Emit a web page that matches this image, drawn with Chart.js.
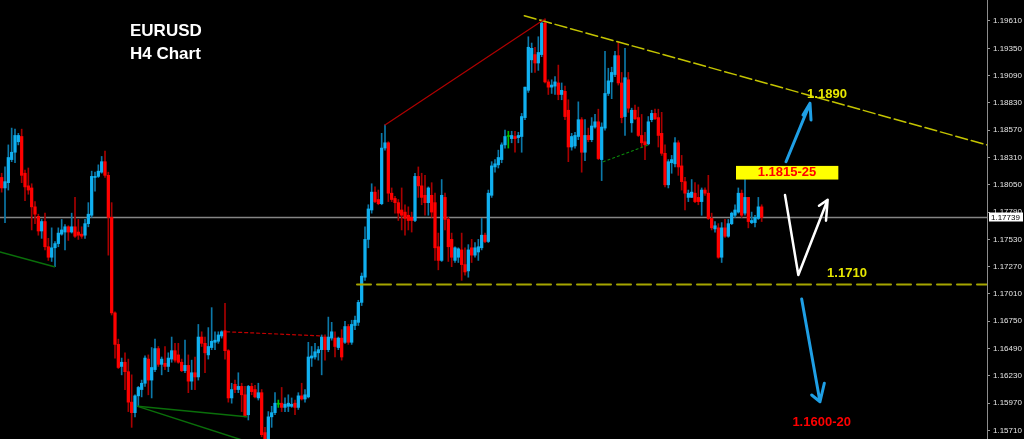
<!DOCTYPE html>
<html>
<head>
<meta charset="utf-8">
<title>EURUSD H4</title>
<script src="https://cdn.jsdelivr.net/npm/chart.js@4.4.0/dist/chart.umd.min.js"></script>
<style>
  html, body { margin: 0; padding: 0; background: #000; }
  #wrap { width: 1024px; height: 439px; }
</style>
</head>
<body>
<div id="wrap"><canvas id="myChart" width="1024" height="439"></canvas></div>
<script>
// H4 candles, oldest first
const open = [
  1.1812, 1.1802, 1.1807, 1.1829, 1.1836, 1.1846, 1.1851, 1.1816, 1.1804, 1.1802,
  1.1784, 1.1775, 1.1761, 1.1770, 1.1746, 1.1736, 1.1745, 1.1749, 1.1758, 1.1760,
  1.1765, 1.1760, 1.1765, 1.1760, 1.1758, 1.1757, 1.1768, 1.1776, 1.1812, 1.1813,
  1.1817, 1.1827, 1.1814, 1.1774, 1.1683, 1.1653, 1.1632, 1.1636, 1.1627, 1.1598,
  1.1588, 1.1604, 1.1610, 1.1616, 1.1639, 1.1619, 1.1629, 1.1649, 1.1634, 1.1635,
  1.1632, 1.1639, 1.1647, 1.1643, 1.1636, 1.1628, 1.1633, 1.1618, 1.1626, 1.1622,
  1.1660, 1.1654, 1.1643, 1.1650, 1.1655, 1.1656, 1.1661, 1.1666, 1.1647, 1.1602,
  1.1615, 1.1610, 1.1613, 1.1605, 1.1586, 1.1613, 1.1610, 1.1602, 1.1607, 1.1569,
  1.1561, 1.1584, 1.1588, 1.1596, 1.1597, 1.1593, 1.1594, 1.1594, 1.1597, 1.1593,
  1.1604, 1.1601, 1.1603, 1.1640, 1.1641, 1.1645, 1.1648, 1.1660, 1.1648, 1.1659,
  1.1659, 1.1650, 1.1659, 1.1655, 1.1670, 1.1655, 1.1671, 1.1674, 1.1693, 1.1717,
  1.1753, 1.1781, 1.1798, 1.1791, 1.1787, 1.1840, 1.1845, 1.1797, 1.1792, 1.1788,
  1.1781, 1.1779, 1.1776, 1.1774, 1.1771, 1.1813, 1.1804, 1.1795, 1.1788, 1.1795,
  1.1788, 1.1746, 1.1733, 1.1793, 1.1772, 1.1753, 1.1733, 1.1736, 1.1743, 1.1729,
  1.1723, 1.1745, 1.1738, 1.1741, 1.1745, 1.1757, 1.1751, 1.1795, 1.1822, 1.1824,
  1.1829, 1.1843, 1.1851, 1.1849, 1.1851, 1.1850, 1.1851, 1.1869, 1.1895, 1.1924,
  1.1929, 1.1921, 1.1929, 1.1959, 1.1903, 1.1898, 1.1899, 1.1902, 1.1891, 1.1894,
  1.1876, 1.1841, 1.1842, 1.1851, 1.1867, 1.1836, 1.1852, 1.1848, 1.1860, 1.1865,
  1.1829, 1.1859, 1.1892, 1.1903, 1.1910, 1.1928, 1.1902, 1.1870, 1.1905, 1.1864,
  1.1876, 1.1869, 1.1852, 1.1846, 1.1844, 1.1867, 1.1873, 1.1869, 1.1854, 1.1835,
  1.1805, 1.1826, 1.1825, 1.1845, 1.1823, 1.1808, 1.1793, 1.1793, 1.1797, 1.1793,
  1.1789, 1.1800, 1.1797, 1.1773, 1.1763, 1.1764, 1.1736, 1.1764, 1.1756, 1.1768,
  1.1776, 1.1779, 1.1797, 1.1778, 1.1793, 1.1769, 1.1769, 1.1773, 1.1784
];
const high = [
  1.1816, 1.1822, 1.1843, 1.1859, 1.1858, 1.1854, 1.1858, 1.1819, 1.1821, 1.1806,
  1.1789, 1.1777, 1.1772, 1.1778, 1.1754, 1.1764, 1.1751, 1.1764, 1.1772, 1.1767,
  1.1766, 1.1778, 1.1793, 1.1772, 1.1765, 1.1772, 1.1788, 1.1818, 1.1817, 1.1824,
  1.1832, 1.1837, 1.1817, 1.1788, 1.1684, 1.1658, 1.1640, 1.1645, 1.1639, 1.1624,
  1.1605, 1.1613, 1.1619, 1.1642, 1.1643, 1.1650, 1.1658, 1.1651, 1.1641, 1.1651,
  1.1645, 1.1660, 1.1654, 1.1654, 1.1639, 1.1657, 1.1643, 1.1638, 1.1641, 1.1672,
  1.1665, 1.1660, 1.1669, 1.1688, 1.1665, 1.1665, 1.1666, 1.1692, 1.1648, 1.1616,
  1.1619, 1.1626, 1.1616, 1.1613, 1.1614, 1.1616, 1.1614, 1.1616, 1.1610, 1.1574,
  1.1589, 1.1594, 1.1607, 1.1600, 1.1612, 1.1602, 1.1605, 1.1602, 1.1600, 1.1607,
  1.1616, 1.1610, 1.1655, 1.1651, 1.1654, 1.1651, 1.1662, 1.1662, 1.1679, 1.1674,
  1.1665, 1.1660, 1.1667, 1.1675, 1.1672, 1.1676, 1.1680, 1.1695, 1.1721, 1.1765,
  1.1786, 1.1806, 1.1803, 1.1800, 1.1854, 1.1862, 1.1846, 1.1802, 1.1794, 1.1791,
  1.1802, 1.1786, 1.1784, 1.1779, 1.1816, 1.1822, 1.1816, 1.1814, 1.1803, 1.1807,
  1.1797, 1.1759, 1.1810, 1.1797, 1.1774, 1.1759, 1.1746, 1.1745, 1.1759, 1.1745,
  1.1748, 1.1753, 1.1750, 1.1753, 1.1773, 1.1759, 1.1800, 1.1827, 1.1829, 1.1838,
  1.1845, 1.1857, 1.1856, 1.1856, 1.1856, 1.1855, 1.1873, 1.1898, 1.1946, 1.1940,
  1.1936, 1.1946, 1.1962, 1.1963, 1.1905, 1.1905, 1.1908, 1.1919, 1.1902, 1.1899,
  1.1886, 1.1854, 1.1855, 1.1884, 1.1869, 1.1867, 1.1859, 1.1869, 1.1872, 1.1877,
  1.1864, 1.1932, 1.1916, 1.1917, 1.1932, 1.1941, 1.1912, 1.1935, 1.1912, 1.1878,
  1.1881, 1.1879, 1.1872, 1.1855, 1.1870, 1.1876, 1.1877, 1.1877, 1.1874, 1.1843,
  1.1829, 1.1833, 1.1850, 1.1847, 1.1833, 1.1812, 1.1800, 1.1810, 1.1807, 1.1805,
  1.1802, 1.1802, 1.1814, 1.1778, 1.1770, 1.1768, 1.1769, 1.1772, 1.1772, 1.1779,
  1.1786, 1.1802, 1.1800, 1.1812, 1.1793, 1.1779, 1.1776, 1.1793, 1.1786
];
const low = [
  1.1798, 1.1769, 1.1800, 1.1827, 1.1826, 1.1843, 1.1807, 1.1790, 1.1796, 1.1762,
  1.1768, 1.1757, 1.1754, 1.1743, 1.1733, 1.1732, 1.1727, 1.1746, 1.1757, 1.1743,
  1.1752, 1.1759, 1.1755, 1.1753, 1.1754, 1.1754, 1.1765, 1.1774, 1.1799, 1.1812,
  1.1816, 1.1812, 1.1738, 1.1681, 1.1640, 1.1630, 1.1624, 1.1610, 1.1589, 1.1574,
  1.1584, 1.1594, 1.1603, 1.1613, 1.1605, 1.1602, 1.1627, 1.1632, 1.1624, 1.1629,
  1.1627, 1.1636, 1.1636, 1.1635, 1.1627, 1.1626, 1.1607, 1.1610, 1.1610, 1.1619,
  1.1651, 1.1626, 1.1639, 1.1648, 1.1648, 1.1654, 1.1659, 1.1639, 1.1598, 1.1597,
  1.1607, 1.1607, 1.1589, 1.1584, 1.1581, 1.1605, 1.1602, 1.1600, 1.1565, 1.1556,
  1.1556, 1.1574, 1.1586, 1.1593, 1.1589, 1.1589, 1.1589, 1.1593, 1.1586, 1.1591,
  1.1600, 1.1598, 1.1602, 1.1632, 1.1639, 1.1638, 1.1624, 1.1638, 1.1646, 1.1657,
  1.1641, 1.1648, 1.1638, 1.1654, 1.1653, 1.1653, 1.1667, 1.1671, 1.1690, 1.1714,
  1.1745, 1.1778, 1.1788, 1.1786, 1.1786, 1.1838, 1.1789, 1.1789, 1.1778, 1.1771,
  1.1762, 1.1757, 1.1762, 1.1760, 1.1770, 1.1793, 1.1786, 1.1776, 1.1776, 1.1774,
  1.1733, 1.1724, 1.1732, 1.1762, 1.1732, 1.1727, 1.1731, 1.1731, 1.1714, 1.1719,
  1.1717, 1.1731, 1.1736, 1.1733, 1.1743, 1.1750, 1.1750, 1.1793, 1.1817, 1.1821,
  1.1826, 1.1840, 1.1840, 1.1845, 1.1836, 1.1845, 1.1836, 1.1867, 1.1893, 1.1912,
  1.1912, 1.1914, 1.1927, 1.1902, 1.1891, 1.1892, 1.1891, 1.1886, 1.1886, 1.1867,
  1.1827, 1.1838, 1.1840, 1.1848, 1.1817, 1.1828, 1.1846, 1.1846, 1.1859, 1.1829,
  1.1809, 1.1857, 1.1890, 1.1887, 1.1908, 1.1900, 1.1864, 1.1852, 1.1874, 1.1855,
  1.1867, 1.1851, 1.1841, 1.1829, 1.1843, 1.1865, 1.1867, 1.1841, 1.1833, 1.1803,
  1.1802, 1.1816, 1.1822, 1.1814, 1.1800, 1.1781, 1.1789, 1.1793, 1.1788, 1.1786,
  1.1776, 1.1795, 1.1772, 1.1762, 1.1760, 1.1735, 1.1731, 1.1755, 1.1755, 1.1767,
  1.1774, 1.1778, 1.1774, 1.1776, 1.1764, 1.1768, 1.1765, 1.1772, 1.1770
];
const close = [
  1.1802, 1.1808, 1.1831, 1.1836, 1.1852, 1.1852, 1.1814, 1.1803, 1.1800, 1.1784,
  1.1777, 1.1761, 1.1770, 1.1746, 1.1736, 1.1745, 1.1749, 1.1759, 1.1762, 1.1765,
  1.1760, 1.1765, 1.1756, 1.1757, 1.1756, 1.1768, 1.1777, 1.1813, 1.1813, 1.1818,
  1.1827, 1.1814, 1.1774, 1.1683, 1.1653, 1.1631, 1.1636, 1.1627, 1.1598, 1.1588,
  1.1604, 1.1612, 1.1616, 1.1640, 1.1619, 1.1631, 1.1649, 1.1634, 1.1639, 1.1632,
  1.1640, 1.1647, 1.1638, 1.1636, 1.1628, 1.1633, 1.1618, 1.1626, 1.1622, 1.1660,
  1.1654, 1.1645, 1.1651, 1.1656, 1.1657, 1.1662, 1.1665, 1.1647, 1.1602, 1.1610,
  1.1610, 1.1613, 1.1605, 1.1585, 1.1613, 1.1608, 1.1603, 1.1607, 1.1567, 1.1561,
  1.1584, 1.1588, 1.1597, 1.1596, 1.1593, 1.1596, 1.1597, 1.1596, 1.1593, 1.1604,
  1.1601, 1.1605, 1.1641, 1.1642, 1.1646, 1.1648, 1.1660, 1.1648, 1.1660, 1.1665,
  1.1651, 1.1659, 1.1641, 1.1670, 1.1655, 1.1672, 1.1676, 1.1693, 1.1718, 1.1753,
  1.1782, 1.1798, 1.1789, 1.1787, 1.1840, 1.1845, 1.1797, 1.1791, 1.1788, 1.1778,
  1.1776, 1.1773, 1.1771, 1.1771, 1.1813, 1.1804, 1.1793, 1.1788, 1.1802, 1.1779,
  1.1745, 1.1733, 1.1795, 1.1772, 1.1746, 1.1736, 1.1745, 1.1744, 1.1729, 1.1722,
  1.1743, 1.1738, 1.1745, 1.1746, 1.1757, 1.1751, 1.1797, 1.1823, 1.1825, 1.1831,
  1.1843, 1.1851, 1.1851, 1.1852, 1.1849, 1.1852, 1.1870, 1.1898, 1.1936, 1.1935,
  1.1921, 1.1931, 1.1959, 1.1903, 1.1898, 1.1900, 1.1903, 1.1891, 1.1895, 1.1870,
  1.1841, 1.1851, 1.1852, 1.1867, 1.1836, 1.1852, 1.1848, 1.1861, 1.1865, 1.1830,
  1.1860, 1.1892, 1.1904, 1.1912, 1.1928, 1.1902, 1.1869, 1.1907, 1.1878, 1.1876,
  1.1868, 1.1852, 1.1845, 1.1843, 1.1865, 1.1873, 1.1868, 1.1852, 1.1835, 1.1805,
  1.1827, 1.1829, 1.1845, 1.1822, 1.1808, 1.1797, 1.1797, 1.1798, 1.1789, 1.1789,
  1.1800, 1.1797, 1.1773, 1.1764, 1.1766, 1.1736, 1.1764, 1.1756, 1.1768, 1.1778,
  1.1781, 1.1797, 1.1776, 1.1793, 1.1770, 1.1771, 1.1774, 1.1784, 1.1774
];

// price axis labels
const tickValues = [1.19610, 1.19350, 1.19090, 1.18830, 1.18570, 1.18310, 1.18050, 1.17790,
                    1.17530, 1.17270, 1.17010, 1.16750, 1.16490, 1.16230, 1.15970, 1.15710];
const lastPrice = 1.17739;

// objects drawn on the chart, anchored on bar number / price
const trendRed = [{ x: 115, y: 1.1862 }, { x: 162.5, y: 1.1962 }];
const trendYellow = [{ x: 156.8, y: 1.1966 }, { x: 295.6, y: 1.1843 }];
const support = [{ x: 106.6, y: 1.1710 }, { x: 295.6, y: 1.1710 }];
const redDotted = [{ x: 67.5, y: 1.1665 }, { x: 96.4, y: 1.1661 }];
const greenDotted = [{ x: 180.5, y: 1.1827 }, { x: 194, y: 1.1843 }];
const greenLeft = [{ x: -0.5, y: 1.1741 }, { x: 15.8, y: 1.1727 }];
const greenLow1 = [{ x: 40.8, y: 1.1594 }, { x: 73.5, y: 1.1584 }];
const greenLow2 = [{ x: 40.8, y: 1.1594 }, { x: 75, y: 1.1559 }];
const arrowUp = [{ x: 235.3, y: 1.1827 }, { x: 242.5, y: 1.18826 }, { x: 240.4, y: 1.18715 },
                 { x: 242.5, y: 1.18826 }, { x: 242.8, y: 1.18667 }];
const arrowWhite = [{ x: 235, y: 1.17953 }, { x: 239, y: 1.17191 }, { x: 247.8, y: 1.17908 },
                    { x: 245.2, y: 1.17851 }, { x: 247.8, y: 1.17908 }, { x: 247.3, y: 1.17708 }];
const arrowDown = [{ x: 240, y: 1.16962 }, { x: 245.5, y: 1.15984 }, { x: 243, y: 1.16048 },
                   { x: 245.5, y: 1.15984 }, { x: 246.8, y: 1.1616 }];
const zoneBox = { x0: 220.3, x1: 251.0, top: 1.1823, bottom: 1.1810 };
const notes = [
  { text: '1.1890', x: 247.6, y: 1.18915, color: '#e6e600' },
  { text: '1.1815-25', x: 235.6, y: 1.18167, color: '#ff0000' },
  { text: '1.1710', x: 253.6, y: 1.1721, color: '#e6e600' },
  { text: '1.1600-20', x: 246.0, y: 1.15786, color: '#ff0000' }
];

const bullColor = '#10b0f0';
const bearColor = '#ff0000';
const dojiColor = '#00c000';
const bullWick = '#0c78a8';
const bearWick = '#a80000';

let chart;

function candleColor(i, wick) {
  if (close[i] > open[i]) return wick ? bullWick : bullColor;
  if (close[i] < open[i]) return wick ? bearWick : bearColor;
  return dojiColor;
}

function lineSet(points, color, width, dash, order) {
  return {
    type: 'line',
    data: points,
    borderColor: color,
    borderWidth: width,
    borderDash: dash || [],
    borderCapStyle: 'round',
    borderJoinStyle: 'round',
    pointRadius: 0,
    fill: false,
    tension: 0,
    order: order === undefined ? 0 : order
  };
}

const labelPlugin = {
  id: 'labels',
  afterDatasetsDraw(c) {
    const ctx = c.ctx;
    const x = c.scales.x, y = c.scales.y;
    ctx.save();
    // title
    ctx.fillStyle = '#ffffff';
    ctx.font = 'bold 17px "Liberation Sans", Arial, sans-serif';
    ctx.textAlign = 'left';
    ctx.textBaseline = 'alphabetic';
    ctx.fillText('EURUSD', 130, 36);
    ctx.fillText('H4 Chart', 130, 59);
    // yellow zone box
    const bx0 = x.getPixelForValue(zoneBox.x0), bx1 = x.getPixelForValue(zoneBox.x1);
    const by0 = y.getPixelForValue(zoneBox.top), by1 = y.getPixelForValue(zoneBox.bottom);
    ctx.fillStyle = '#ffff00';
    ctx.fillRect(bx0, by0, bx1 - bx0, by1 - by0);
    // level notes
    ctx.font = 'bold 13px "Liberation Sans", Arial, sans-serif';
    ctx.textAlign = 'center';
    ctx.textBaseline = 'middle';
    notes.forEach(n => {
      ctx.fillStyle = n.color;
      ctx.fillText(n.text, x.getPixelForValue(n.x), y.getPixelForValue(n.y));
    });
    ctx.restore();
  },
  afterDraw(c) {
    const ctx = c.ctx;
    const y = c.scales.y;
    const py = Math.round(y.getPixelForValue(lastPrice));
    ctx.save();
    ctx.fillStyle = '#ffffff';
    ctx.fillRect(989, py - 4.5, 34, 9);
    ctx.fillStyle = '#000000';
    ctx.font = '8px "Liberation Sans", Arial, sans-serif';
    ctx.textAlign = 'left';
    ctx.textBaseline = 'middle';
    ctx.fillText(lastPrice.toFixed(5), 991, py + 0.5);
    ctx.restore();
  }
};

function drawChart() {
  const idx = open.map((o, i) => i);
  chart = new Chart("myChart", {
    type: 'bar',
    data: {
      datasets: [
        lineSet([{ x: -0.5, y: lastPrice }, { x: 295.6, y: lastPrice }], '#858585', 1.5, [], 3),
        {
          type: 'bar',
          data: idx.map(i => ({ x: i, y: [low[i], high[i]] })),
          backgroundColor: ctx => candleColor(ctx.dataIndex, true),
          barThickness: 1,
          grouped: false,
          order: 2
        },
        {
          type: 'bar',
          data: idx.map(i => ({ x: i, y: [open[i], close[i]] })),
          backgroundColor: ctx => candleColor(ctx.dataIndex, false),
          barThickness: 2.6,
          minBarLength: 1,
          grouped: false,
          order: 1
        },
        lineSet(trendRed, '#b00000', 1.2),
        lineSet(trendYellow, '#c4c400', 1.5, [12, 4]),
        lineSet(support, '#a5a500', 2, [14, 6]),
        lineSet(redDotted, '#c00000', 1.2, [3, 3]),
        lineSet(greenDotted, '#0a8a0a', 1.2, [2, 3]),
        lineSet(greenLeft, '#0a6e0a', 1.5),
        lineSet(greenLow1, '#0a6e0a', 1.5),
        lineSet(greenLow2, '#0a6e0a', 1.5),
        lineSet(arrowUp, '#1f9fe5', 3),
        lineSet(arrowWhite, '#ffffff', 2.5),
        lineSet(arrowDown, '#1f9fe5', 3)
      ]
    },
    options: {
      responsive: false,
      animation: false,
      devicePixelRatio: 1,
      layout: { padding: 0 },
      plugins: {
        legend: { display: false },
        tooltip: { enabled: false }
      },
      scales: {
        x: { type: 'linear', min: -0.5, max: 295.6, display: false, offset: false },
        y: {
          position: 'right',
          min: 1.15629,
          max: 1.19810,
          beginAtZero: false,
          afterBuildTicks: s => { s.ticks = tickValues.map(v => ({ value: v })); },
          afterFit: s => { s.width = 37; s.paddingTop = 0; s.paddingBottom = 0; },
          ticks: {
            color: '#e6e6e6',
            autoSkip: false,
            padding: 3,
            font: { family: 'Liberation Sans', size: 8 },
            callback: v => v.toFixed(5)
          },
          grid: { drawOnChartArea: false, drawTicks: true, tickLength: 3, color: '#9a9a9a' },
          border: { display: true, color: '#8c8c8c', width: 1 }
        }
      }
    },
    plugins: [labelPlugin]
  });
}

drawChart();
</script>
</body>
</html>
